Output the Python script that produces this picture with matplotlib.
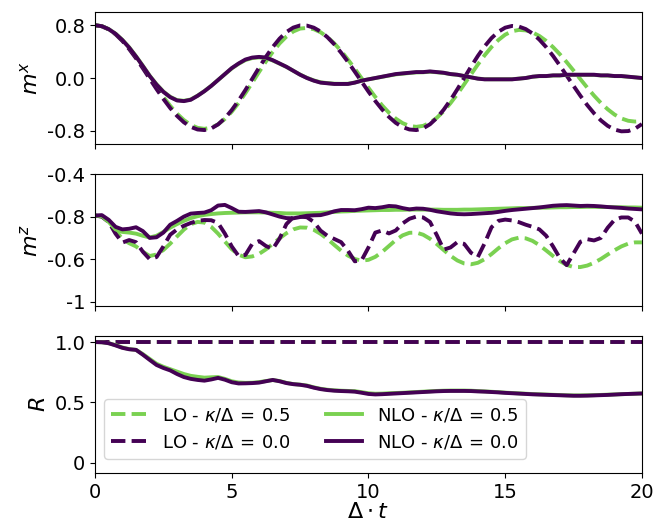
import numpy as np
import matplotlib
matplotlib.use("Agg")
import matplotlib.pyplot as plt

GREEN = "#7ad151"
PURPLE = "#440154"

# time grid, step 0.25
t = np.linspace(0, 20, 81)

# ---- m^x ----
mx_lo_k05 = [0.800, 0.785, 0.740, 0.667, 0.570, 0.451, 0.316, 0.168,
             0.015, -0.138, -0.286, -0.421, -0.540, -0.637, -0.710, -0.755,
             -0.770, -0.753, -0.702, -0.620, -0.511, -0.379, -0.229, -0.070,
             0.092, 0.250, 0.396, 0.524, 0.628, 0.705, 0.749, 0.759,
             0.740, 0.693, 0.620, 0.525, 0.411, 0.280, 0.141, -0.004,
             -0.149, -0.287, -0.415, -0.526, -0.616, -0.684, -0.726, -0.740,
             -0.725, -0.678, -0.603, -0.503, -0.381, -0.244, -0.096, 0.055,
             0.204, 0.345, 0.470, 0.575, 0.657, 0.708, 0.729, 0.722,
             0.691, 0.637, 0.562, 0.468, 0.360, 0.240, 0.113, -0.017,
             -0.145, -0.267, -0.378, -0.474, -0.554, -0.613, -0.648, -0.660,
             -0.655]
mx_lo_k00 = [0.800, 0.784, 0.738, 0.663, 0.562, 0.438, 0.298, 0.147,
             -0.011, -0.168, -0.317, -0.455, -0.574, -0.671, -0.740, -0.780,
             -0.789, -0.764, -0.703, -0.609, -0.486, -0.342, -0.182, -0.012,
             0.158, 0.321, 0.470, 0.597, 0.697, 0.764, 0.797, 0.794,
             0.763, 0.704, 0.618, 0.511, 0.384, 0.245, 0.096, -0.055,
             -0.206, -0.348, -0.477, -0.589, -0.680, -0.744, -0.780, -0.789,
             -0.763, -0.701, -0.605, -0.481, -0.334, -0.171, 0.000, 0.171,
             0.334, 0.481, 0.605, 0.701, 0.763, 0.789, 0.780, 0.742,
             0.675, 0.582, 0.468, 0.335, 0.189, 0.036, -0.119, -0.269,
             -0.410, -0.535, -0.642, -0.725, -0.781, -0.808, -0.804, -0.767,
             -0.698]
mx_nlo_k05 = [0.800, 0.785, 0.741, 0.672, 0.578, 0.465, 0.330, 0.185,
              0.035, -0.095, -0.205, -0.285, -0.335, -0.345, -0.325, -0.268,
              -0.198, -0.118, -0.030, 0.058, 0.145, 0.215, 0.272, 0.302,
              0.312, 0.303, 0.265, 0.218, 0.168, 0.110, 0.052, 0.003,
              -0.036, -0.065, -0.077, -0.086, -0.088, -0.087, -0.068, -0.040,
              -0.020, -0.001, 0.018, 0.037, 0.055, 0.066, 0.076, 0.085,
              0.087, 0.095, 0.087, 0.077, 0.059, 0.048, 0.030, 0.011,
              -0.008, -0.018, -0.019, -0.019, -0.019, -0.018, -0.009, 0.001,
              0.019, 0.028, 0.029, 0.038, 0.039, 0.047, 0.048, 0.048,
              0.048, 0.047, 0.039, 0.038, 0.029, 0.028, 0.019, 0.010,
              0.000]
mx_nlo_k00 = [0.800, 0.785, 0.740, 0.670, 0.575, 0.460, 0.325, 0.180,
              0.030, -0.100, -0.210, -0.290, -0.340, -0.350, -0.330, -0.270,
              -0.200, -0.120, -0.030, 0.060, 0.150, 0.220, 0.280, 0.310,
              0.320, 0.310, 0.270, 0.220, 0.170, 0.110, 0.050, 0.000,
              -0.040, -0.070, -0.080, -0.090, -0.090, -0.090, -0.070, -0.040,
              -0.020, 0.000, 0.020, 0.040, 0.060, 0.070, 0.080, 0.090,
              0.090, 0.100, 0.090, 0.080, 0.060, 0.050, 0.030, 0.010,
              -0.010, -0.020, -0.020, -0.020, -0.020, -0.020, -0.010, 0.000,
              0.020, 0.030, 0.030, 0.040, 0.040, 0.050, 0.050, 0.050,
              0.050, 0.050, 0.040, 0.040, 0.030, 0.030, 0.020, 0.010,
              0.000]

# ---- m^z ----
mz_lo_k05 = [-0.595, -0.600, -0.625, -0.665, -0.705, -0.725, -0.740, -0.765,
             -0.785, -0.778, -0.757, -0.727, -0.693, -0.661, -0.636, -0.625,
             -0.628, -0.648, -0.680, -0.717, -0.753, -0.779, -0.791, -0.787,
             -0.775, -0.754, -0.728, -0.702, -0.678, -0.660, -0.651, -0.652,
             -0.662, -0.681, -0.705, -0.733, -0.760, -0.783, -0.799, -0.807,
             -0.803, -0.789, -0.766, -0.738, -0.710, -0.688, -0.676, -0.675,
             -0.685, -0.704, -0.729, -0.757, -0.784, -0.806, -0.820, -0.824,
             -0.817, -0.800, -0.776, -0.749, -0.725, -0.707, -0.699, -0.702,
             -0.714, -0.734, -0.759, -0.785, -0.809, -0.827, -0.837, -0.837,
             -0.830, -0.817, -0.799, -0.778, -0.758, -0.740, -0.727, -0.721,
             -0.721]
mz_lo_k00 = [-0.595, -0.600, -0.625, -0.680, -0.722, -0.710, -0.720, -0.765,
             -0.800, -0.790, -0.740, -0.685, -0.660, -0.643, -0.630, -0.620,
             -0.616, -0.617, -0.630, -0.680, -0.740, -0.785, -0.780, -0.728,
             -0.715, -0.738, -0.752, -0.703, -0.635, -0.603, -0.600, -0.603,
             -0.625, -0.666, -0.690, -0.705, -0.720, -0.760, -0.810, -0.805,
             -0.745, -0.675, -0.665, -0.679, -0.665, -0.632, -0.610, -0.600,
             -0.604, -0.625, -0.687, -0.755, -0.745, -0.720, -0.728, -0.770,
             -0.790, -0.725, -0.650, -0.620, -0.614, -0.618, -0.626, -0.638,
             -0.648, -0.660, -0.690, -0.740, -0.795, -0.828, -0.773, -0.718,
             -0.706, -0.712, -0.700, -0.652, -0.615, -0.604, -0.604, -0.624,
             -0.680]
mz_nlo_k05 = [-0.595, -0.598, -0.625, -0.660, -0.672, -0.675, -0.680, -0.690,
              -0.698, -0.690, -0.672, -0.652, -0.635, -0.620, -0.607, -0.598,
              -0.592, -0.588, -0.585, -0.583, -0.582, -0.581, -0.580, -0.580,
              -0.580, -0.581, -0.582, -0.583, -0.585, -0.585, -0.585, -0.584,
              -0.583, -0.582, -0.580, -0.578, -0.576, -0.575, -0.573, -0.572,
              -0.571, -0.570, -0.569, -0.569, -0.568, -0.568, -0.567, -0.567,
              -0.567, -0.567, -0.567, -0.568, -0.568, -0.568, -0.567, -0.567,
              -0.566, -0.565, -0.564, -0.563, -0.562, -0.561, -0.560, -0.560,
              -0.559, -0.558, -0.558, -0.557, -0.556, -0.556, -0.555, -0.555,
              -0.554, -0.554, -0.555, -0.555, -0.556, -0.556, -0.557, -0.557,
              -0.558]
mz_nlo_k00 = [-0.595, -0.593, -0.615, -0.648, -0.660, -0.657, -0.650, -0.668,
              -0.700, -0.697, -0.675, -0.638, -0.620, -0.600, -0.586, -0.583,
              -0.581, -0.570, -0.548, -0.545, -0.560, -0.577, -0.578, -0.576,
              -0.574, -0.580, -0.590, -0.600, -0.607, -0.608, -0.602, -0.596,
              -0.594, -0.593, -0.585, -0.575, -0.569, -0.569, -0.570, -0.565,
              -0.558, -0.560, -0.556, -0.550, -0.552, -0.560, -0.566, -0.562,
              -0.563, -0.568, -0.575, -0.580, -0.585, -0.588, -0.589, -0.588,
              -0.586, -0.584, -0.582, -0.578, -0.573, -0.569, -0.566, -0.563,
              -0.560, -0.557, -0.553, -0.549, -0.547, -0.546, -0.548, -0.550,
              -0.549, -0.550, -0.552, -0.555, -0.557, -0.559, -0.562, -0.564,
              -0.566]

# ---- R ----
r_lo_k05 = [1.0] * len(t)
r_lo_k00 = [1.0] * len(t)
r_nlo_k05 = [1.000, 0.998, 0.990, 0.975, 0.955, 0.942, 0.935, 0.900,
             0.860, 0.820, 0.795, 0.775, 0.755, 0.735, 0.720, 0.712,
             0.705, 0.708, 0.710, 0.695, 0.675, 0.665, 0.662, 0.663,
             0.668, 0.677, 0.685, 0.677, 0.662, 0.652, 0.647, 0.640,
             0.625, 0.613, 0.605, 0.600, 0.597, 0.595, 0.593, 0.585,
             0.576, 0.572, 0.573, 0.576, 0.578, 0.580, 0.583, 0.586,
             0.589, 0.592, 0.595, 0.597, 0.598, 0.598, 0.598, 0.597,
             0.594, 0.591, 0.588, 0.585, 0.581, 0.578, 0.575, 0.572,
             0.569, 0.567, 0.565, 0.563, 0.561, 0.559, 0.558, 0.558,
             0.559, 0.560, 0.562, 0.564, 0.566, 0.568, 0.570, 0.572,
             0.574]
r_nlo_k00 = [1.000, 0.998, 0.990, 0.972, 0.952, 0.940, 0.935, 0.895,
             0.852, 0.810, 0.785, 0.765, 0.735, 0.710, 0.695, 0.686,
             0.680, 0.690, 0.703, 0.688, 0.667, 0.657, 0.658, 0.660,
             0.664, 0.675, 0.686, 0.675, 0.660, 0.651, 0.646, 0.637,
             0.622, 0.610, 0.602, 0.597, 0.594, 0.592, 0.589, 0.580,
             0.570, 0.566, 0.568, 0.571, 0.574, 0.577, 0.580, 0.583,
             0.586, 0.589, 0.592, 0.594, 0.595, 0.595, 0.595, 0.594,
             0.591, 0.589, 0.586, 0.583, 0.579, 0.576, 0.573, 0.570,
             0.567, 0.565, 0.563, 0.561, 0.559, 0.557, 0.555, 0.555,
             0.556, 0.558, 0.560, 0.562, 0.565, 0.568, 0.570, 0.572,
             0.574]

labels = [r"LO - $\kappa/\Delta\,=\,0.5$", r"LO - $\kappa/\Delta\,=\,0.0$",
          r"NLO - $\kappa/\Delta\,=\,0.5$", r"NLO - $\kappa/\Delta\,=\,0.0$"]

fig = plt.figure(figsize=(6.53, 5.25), dpi=100)
ax1 = fig.add_axes([0.1455, 0.7257, 0.8375, 0.2514])
ax2 = fig.add_axes([0.1455, 0.4171, 0.8375, 0.2514])
ax3 = fig.add_axes([0.1455, 0.0990, 0.8375, 0.2610])

lw = 2.8
panels = [
    (ax1, [mx_lo_k05, mx_lo_k00, mx_nlo_k05, mx_nlo_k00]),
    (ax2, [mz_lo_k05, mz_lo_k00, mz_nlo_k05, mz_nlo_k00]),
    (ax3, [r_lo_k05, r_lo_k00, r_nlo_k05, r_nlo_k00]),
]
styles = [(GREEN, "--"), (PURPLE, "--"), (GREEN, "-"), (PURPLE, "-")]
for ax, series in panels:
    for ys, (c, ls), lab in zip(series, styles, labels):
        ax.plot(t, ys, color=c, linestyle=ls, lw=lw, label=lab)
    ax.set_xlim(0, 20)
    ax.set_xticks([0, 5, 10, 15, 20])
    ax.tick_params(labelsize=14)

ax1.set_ylim(-1, 1)
ax1.set_yticks([0.8, 0.0, -0.8])
ax1.set_yticklabels(["0.8", "0.0", "-0.8"])
ax1.set_xticklabels([])
ax1.set_ylabel(r"$m^x$", fontsize=16)

ax2.set_ylim(-1.02, -0.4)
ax2.set_yticks([-0.4, -0.6, -0.8, -1.0])
ax2.set_yticklabels(["-0.4", "-0.8", "-0.6", "-1"])
ax2.set_xticklabels([])
ax2.set_ylabel(r"$m^z$", fontsize=16)

ax3.set_ylim(-0.085, 1.05)
ax3.set_yticks([1.0, 0.5, 0.0])
ax3.set_yticklabels(["1.0", "0.5", "0"])
ax3.set_xticklabels(["0", "5", "10", "15", "20"])
ax3.set_ylabel(r"$R$", fontsize=16)
ax3.set_xlabel(r"$\Delta \cdot t$", fontsize=16, labelpad=0)
ax3.legend(loc="lower left", ncol=2, fontsize=13, bbox_to_anchor=(0.0, 0.04))

fig.savefig("out.png", dpi=100)
